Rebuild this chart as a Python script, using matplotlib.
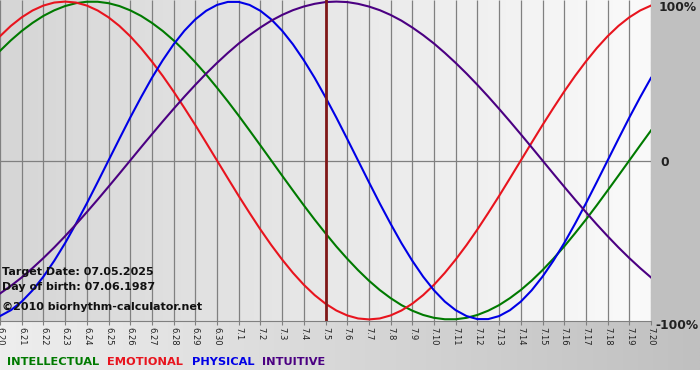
import numpy as np
import matplotlib
matplotlib.use("Agg")
import matplotlib.pyplot as plt
from matplotlib.transforms import blended_transform_factory

# day labels (month.day), 6.20 .. 7.20
days = ["6.20", "6.21", "6.22", "6.23", "6.24", "6.25", "6.26", "6.27", "6.28", "6.29", "6.30",
        "7.1", "7.2", "7.3", "7.4", "7.5", "7.6", "7.7", "7.8", "7.9", "7.10",
        "7.11", "7.12", "7.13", "7.14", "7.15", "7.16", "7.17", "7.18", "7.19", "7.20"]
target_day = "7.5"

# values in percent, read every half day (day, day + 0.5)
intellectual = [69.0, 75.6, 81.5, 86.6, 91.0, 94.5, 97.2, 99.0, 99.9, 99.9,
                99.0, 97.2, 94.5, 91.0, 86.6, 81.5, 75.6, 69.0, 61.8, 54.1,
                45.8, 37.2, 28.2, 18.9, 9.5, 0.0, -9.5, -18.9, -28.2, -37.2,
                -45.8, -54.1, -61.8, -69.0, -75.6, -81.5, -86.6, -91.0, -94.5, -97.2,
                -99.0, -99.9, -99.9, -99.0, -97.2, -94.5, -91.0, -86.6, -81.5, -75.6,
                -69.0, -61.8, -54.1, -45.8, -37.2, -28.2, -18.9, -9.5, 0.0, 9.5,
                18.9]
emotional = [78.2, 84.7, 90.1, 94.4, 97.5, 99.4, 100.0, 99.4, 97.5, 94.4,
             90.1, 84.7, 78.2, 70.7, 62.3, 53.2, 43.4, 33.0, 22.3, 11.2,
             0.0, -11.2, -22.3, -33.0, -43.4, -53.2, -62.3, -70.7, -78.2, -84.7,
             -90.1, -94.4, -97.5, -99.4, -100.0, -99.4, -97.5, -94.4, -90.1, -84.7,
             -78.2, -70.7, -62.3, -53.2, -43.4, -33.0, -22.3, -11.2, 0.0, 11.2,
             22.3, 33.0, 43.4, 53.2, 62.3, 70.7, 78.2, 84.7, 90.1, 94.4,
             97.5]
physical = [-97.9, -94.2, -88.8, -81.7, -73.1, -63.1, -52.0, -39.8, -27.0, -13.6,
            0.0, 13.6, 27.0, 39.8, 52.0, 63.1, 73.1, 81.7, 88.8, 94.2,
            97.9, 99.8, 99.8, 97.9, 94.2, 88.8, 81.7, 73.1, 63.1, 52.0,
            39.8, 27.0, 13.6, 0.0, -13.6, -27.0, -39.8, -52.0, -63.1, -73.1,
            -81.7, -88.8, -94.2, -97.9, -99.8, -99.8, -97.9, -94.2, -88.8, -81.7,
            -73.1, -63.1, -52.0, -39.8, -27.0, -13.6, 0.0, 13.6, 27.0, 39.8,
            52.0]
intuitive = [-83.7, -78.9, -73.6, -67.7, -61.4, -54.7, -47.6, -40.2, -32.5, -24.6,
             -16.5, -8.3, 0.0, 8.3, 16.5, 24.6, 32.5, 40.2, 47.6, 54.7,
             61.4, 67.7, 73.6, 78.9, 83.7, 88.0, 91.6, 94.6, 96.9, 98.6,
             99.7, 100.0, 99.7, 98.6, 96.9, 94.6, 91.6, 88.0, 83.7, 78.9,
             73.6, 67.7, 61.4, 54.7, 47.6, 40.2, 32.5, 24.6, 16.5, 8.3,
             0.0, -8.3, -16.5, -24.6, -32.5, -40.2, -47.6, -54.7, -61.4, -67.7,
             -73.6]

series = [("INTELLECTUAL", intellectual, "#007a00"),
          ("EMOTIONAL", emotional, "#e8141e"),
          ("PHYSICAL", physical, "#0000e6"),
          ("INTUITIVE", intuitive, "#4b0082")]

W, H = 700, 380
fig = plt.figure(figsize=(W / 100, H / 100), dpi=100)

# background pieces (pixel coords)
bg = fig.add_axes([0, 0, 1, 1], zorder=-5)
bg.set_xlim(0, W)
bg.set_ylim(H, 0)
bg.axis("off")
grad = np.linspace(0, 1, 256)
c0, c1 = np.array([0xee, 0xee, 0xee]) / 255, np.array([0xc0, 0xc0, 0xc0]) / 255
img = (c0[None, :] * (1 - grad[:, None]) + c1[None, :] * grad[:, None])[None, :, :]
bg.imshow(img, extent=(0, W, 370, 321), aspect="auto")
bg.fill_between([651, W], 0, 321, color="#c0c0c0", lw=0)
bg.fill_between([0, W], 370, H, color="white", lw=0)

ax = fig.add_axes([0, 1 - 321 / H, 651 / W, 321 / H])
ax.set_facecolor("none")
x = np.arange(len(days))
ax.set_xlim(x[0], x[-1])
ax.set_ylim(-101, 101)

p0, p1 = np.array([0xd6, 0xd6, 0xd6]) / 255, np.array([0xfa, 0xfa, 0xfa]) / 255
img2 = (p0[None, :] * (1 - grad[:, None]) + p1[None, :] * grad[:, None])[None, :, :]
ax.imshow(img2, extent=(x[0], x[-1], -101, 101), aspect="auto", zorder=0)

ax.vlines(x, -101, 101, color="#808080", lw=0.9, zorder=1)
ax.axhline(0, color="#808080", lw=0.9, zorder=1)

for name, vals, col in series:
    xs = np.arange(len(vals)) / 2  # half-day steps
    ax.plot(xs, vals, color=col, lw=1.5, zorder=3)

ax.axvline(days.index(target_day), color="#801818", lw=2.0, zorder=4)

for s in ["top", "left", "right"]:
    ax.spines[s].set_visible(False)
ax.spines["bottom"].set_color("#808080")
ax.set_yticks([])
ax.set_xticks(x, days, rotation=-90, fontsize=6, color="#222222")
ax.tick_params(axis="x", length=3, color="#808080", pad=1.5)

tr = blended_transform_factory(ax.transAxes, ax.transData)
ax.text(1.011, 96, "100%", transform=tr, fontsize=8.8, fontweight="bold",
        va="center", ha="left", clip_on=False, color="#222222")
ax.text(1.014, -1.5, "0", transform=tr, fontsize=8.8, fontweight="bold",
        va="center", ha="left", clip_on=False, color="#222222")
ax.text(1.006, -104, "-100%", transform=tr, fontsize=8.8, fontweight="bold",
        va="center", ha="left", clip_on=False, color="#222222")

# info text over the plot
info = ["Target Date: 07.05.2025", "Day of birth: 07.06.1987"]
fig.text(2 / W, 1 - 272 / H, info[0], fontsize=8, fontweight="bold", va="center", color="#111111")
fig.text(2 / W, 1 - 287 / H, info[1], fontsize=8, fontweight="bold", va="center", color="#111111")
fig.text(2 / W, 1 - 307 / H, "\u00a92010 biorhythm-calculator.net", fontsize=8,
         fontweight="bold", va="center", color="#111111")

# legend words
legend_x = [7, 107, 192, 262]
for (name, vals, col), lx in zip(series, legend_x):
    fig.text(lx / W, 1 - 362 / H, name, fontsize=8.2, fontweight="bold",
             va="center", color=col)

fig.savefig("out.png", dpi=100)
